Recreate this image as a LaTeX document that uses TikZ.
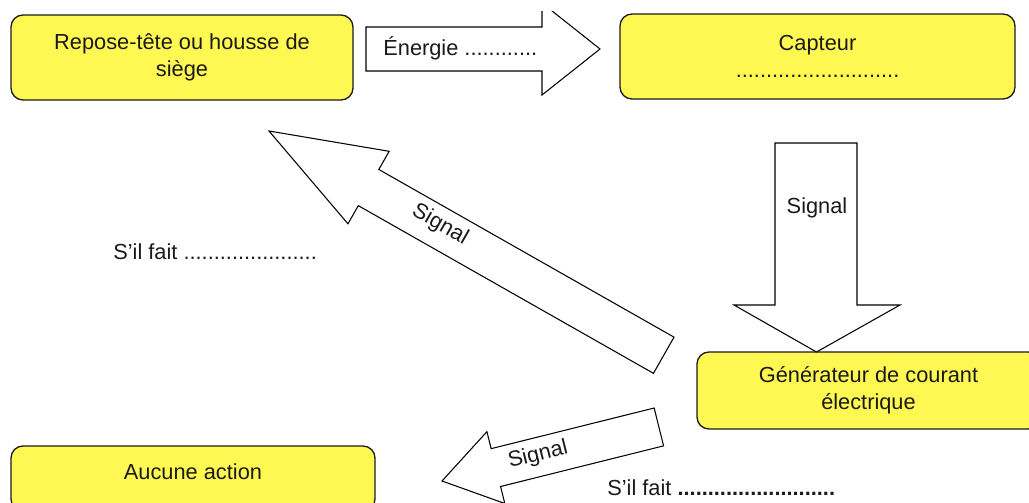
\documentclass[tikz,border=0pt]{standalone}
\usepackage{fontspec}
\setmainfont{Liberation Sans}
\usepackage{tikz}
\usetikzlibrary{positioning,calc}
\usepackage{xcolor}
\definecolor{jaune}{HTML}{FFF852}
\definecolor{ink}{HTML}{1A1A1A}
\tikzset{
  every node/.style={font=\fontsize{12.4}{15.4}\selectfont,text=ink},
  box/.style={draw=ink,line width=0.75pt,rounded corners=6.8pt,fill=jaune,align=center,inner sep=0pt},
  blockarrow/.style={draw=black,line width=0.6pt,fill=white,line join=miter},
  lbl/.style={inner sep=0pt},
}

\begin{document}
\begin{tikzpicture}
\useasboundingbox (0,0) rectangle (20.58,-10.04);
\clip (0,0) rectangle (20.58,-10.04);

% ---------- boxes ----------
\node[box,minimum width=6.84cm,minimum height=1.70cm] (repose) at (3.64,-1.15) {Repose-tête ou housse de\\siège};
\node[box,minimum width=7.90cm,minimum height=1.70cm] (capteur) at (16.35,-1.13) {Capteur\\...........................};
\node[box,minimum width=6.86cm,minimum height=1.54cm] (generateur) at (17.37,-7.81) {Générateur de courant\\électrique};
\node[box,minimum width=7.28cm,minimum height=1.30cm,text depth=0.26cm] (aucune) at (3.86,-9.57) {Aucune action};

% ---------- energie arrow ----------
\begin{scope}
\clip (7,-0.22) rectangle (12.5,-2.2);
\draw[blockarrow] (7.32,-0.54) -- (10.84,-0.54) -- (10.84,-0.06) -- (12.0,-0.98) -- (10.84,-1.90) -- (10.84,-1.42) -- (7.32,-1.42) -- cycle;
\end{scope}
\node[lbl,anchor=west] (energie) at (7.66,-0.97) {Énergie ............};

% ---------- signal down ----------
\draw[blockarrow] (15.5,-2.86) -- (17.14,-2.86) -- (17.14,-6.10) -- (18.0,-6.10) -- (16.33,-7.04) -- (14.68,-6.10) -- (15.5,-6.10) -- cycle;
\node[lbl] (sigdown) at (16.34,-4.16) {Signal};

% ---------- signal back to repose ----------
\begin{scope}[shift={(5.38,-2.62)},rotate=-29.6]
\draw[blockarrow] (0,0) -- (2.29,0.834) -- (2.29,0.416) -- (9.08,0.416) -- (9.08,-0.416) -- (2.29,-0.416) -- (2.29,-0.834) -- cycle;
\node[lbl,rotate=-29.6] (sigup) at (3.9,0.06) {Signal};
\end{scope}
\node[lbl,anchor=west] (fait1) at (2.26,-5.04) {S’il fait ......................};

% ---------- signal to aucune ----------
\begin{scope}[shift={(8.84,-9.62)},rotate=14]
\draw[blockarrow] (0,0) -- (1.11,0.74) -- (1.11,0.39) -- (4.47,0.39) -- (4.47,-0.39) -- (1.11,-0.39) -- (1.11,-0.74) -- cycle;
\node[lbl,rotate=14] (siglow) at (1.99,0.04) {Signal};
\end{scope}
\node[lbl,anchor=west] (fait2) at (12.14,-9.76) {S’il fait \textbf{..........................}};

\end{tikzpicture}
\end{document}
